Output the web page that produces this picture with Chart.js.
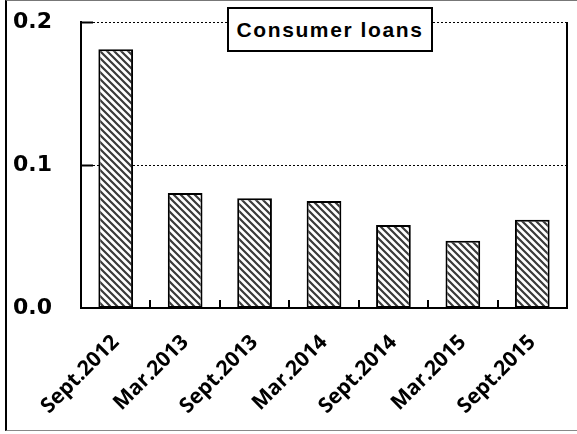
<!DOCTYPE html>
<html lang="en">
<head>
<meta charset="UTF-8">
<title>Consumer loans</title>
<style>
    html, body { margin: 0; padding: 0; background: #fff; }
    #wrap { position: relative; width: 577px; height: 434px; }
    #frame { position: absolute; left: 5px; top: 0; width: 572px; height: 431px;
        border-left: 2px solid #000; border-top: 1px solid #777; border-bottom: 1px solid #888;
        box-sizing: border-box; pointer-events: none; }
    #title { position: absolute; left: 227px; top: 7px; width: 206px; height: 45px; box-sizing: border-box;
        border: 2px solid #000; background: #fff; font: bold 21px "Liberation Sans", Arial, sans-serif;
        letter-spacing: 1.6px; text-align: center; line-height: 41px; color: #000; }
</style>
</head>
<body>
<div id="wrap">
    <canvas id="chart" width="577" height="434"></canvas>
    <div id="frame"></div>
    <div id="title">Consumer loans</div>
</div>

<script src="https://cdn.jsdelivr.net/npm/chart.js@4/dist/chart.umd.min.js"></script>
<script>
    // data
    var periods = ["Sept.2012", "Mar.2013", "Sept.2013", "Mar.2014", "Sept.2014", "Mar.2015", "Sept.2015"];
    var loanValues = [0.181, 0.0805, 0.0767, 0.0748, 0.058, 0.047, 0.0617];
    var yTicks = [0, 0.1, 0.2];

    function hatch() {
        var s = 7;
        var c = document.createElement("canvas");
        c.width = s; c.height = s;
        var g = c.getContext("2d");
        g.fillStyle = "#fff";
        g.fillRect(0, 0, s, s);
        g.strokeStyle = "#3a3a3a";
        g.lineWidth = 2.2;
        g.beginPath();
        g.moveTo(-s, -s); g.lineTo(2 * s, 2 * s);
        g.moveTo(-s, 0); g.lineTo(s, 2 * s);
        g.moveTo(0, -s); g.lineTo(2 * s, s);
        g.stroke();
        return g.createPattern(c, "repeat");
    }

    // dotted grid, inner ticks, right border
    var extras = {
        id: "extras",
        beforeDatasetsDraw(chart) {
            var ctx = chart.ctx, a = chart.chartArea;
            var y = chart.scales.y, x = chart.scales.x;
            ctx.save();
            ctx.strokeStyle = "#000";
            ctx.lineWidth = 1;
            ctx.setLineDash([2, 2]);
            yTicks.forEach(function (v) {
                if (v === 0) return;
                var py = Math.round(y.getPixelForValue(v)) + 0.5;
                ctx.beginPath();
                ctx.moveTo(a.left, py);
                ctx.lineTo(a.right, py);
                ctx.stroke();
            });
            ctx.setLineDash([]);
            ctx.lineWidth = 2;
            yTicks.forEach(function (v) {
                if (v === 0) return;
                var py = Math.round(y.getPixelForValue(v)) + 0.5;
                ctx.beginPath();
                ctx.moveTo(a.left, py);
                ctx.lineTo(a.left + 12, py);
                ctx.stroke();
            });
            for (var i = 0; i < periods.length - 1; i++) {
                var px = Math.round((x.getPixelForTick(i) + x.getPixelForTick(i + 1)) / 2);
                ctx.beginPath();
                ctx.moveTo(px, a.bottom);
                ctx.lineTo(px, a.bottom - 8);
                ctx.stroke();
            }
            ctx.beginPath();
            ctx.moveTo(a.right, a.top);
            ctx.lineTo(a.right, a.bottom);
            ctx.stroke();
            ctx.restore();
        }
    };

    new Chart(document.getElementById("chart"), {
        type: "bar",
        data: {
            labels: periods,
            datasets: [{
                data: loanValues,
                backgroundColor: hatch(),
                borderColor: "#000",
                borderWidth: 2,
                borderSkipped: false,
                barPercentage: 0.5,
                categoryPercentage: 1
            }]
        },
        options: {
            responsive: false,
            animation: false,
            layout: { padding: { left: 0, right: 10, top: 22, bottom: 0 } },
            plugins: { legend: { display: false }, tooltip: { enabled: false } },
            scales: {
                x: {
                    grid: { display: false },
                    border: { display: true, color: "#000", width: 2 },
                    ticks: {
                        color: "#000",
                        font: { family: "Open Sans", size: 21, weight: "bold" },
                        maxRotation: 45,
                        minRotation: 45,
                        padding: 14
                    },
                    afterFit(scale) { scale.height = 126; }
                },
                y: {
                    min: 0,
                    max: 0.2,
                    afterBuildTicks(scale) { scale.ticks = yTicks.map(function (v) { return { value: v }; }); },
                    grid: { display: false, drawTicks: false },
                    border: { display: true, color: "#000", width: 2 },
                    ticks: {
                        color: "#000",
                        padding: 29,
                        font: { family: "DejaVu Sans", size: 22, weight: "bold" },
                        callback: function (v) { return v.toFixed(1); }
                    },
                    afterFit(scale) {
                        scale.width = 81;
                        scale.paddingTop = 0;
                        scale.paddingBottom = 0;
                    }
                }
            }
        },
        plugins: [extras]
    });
</script>
</body>
</html>
